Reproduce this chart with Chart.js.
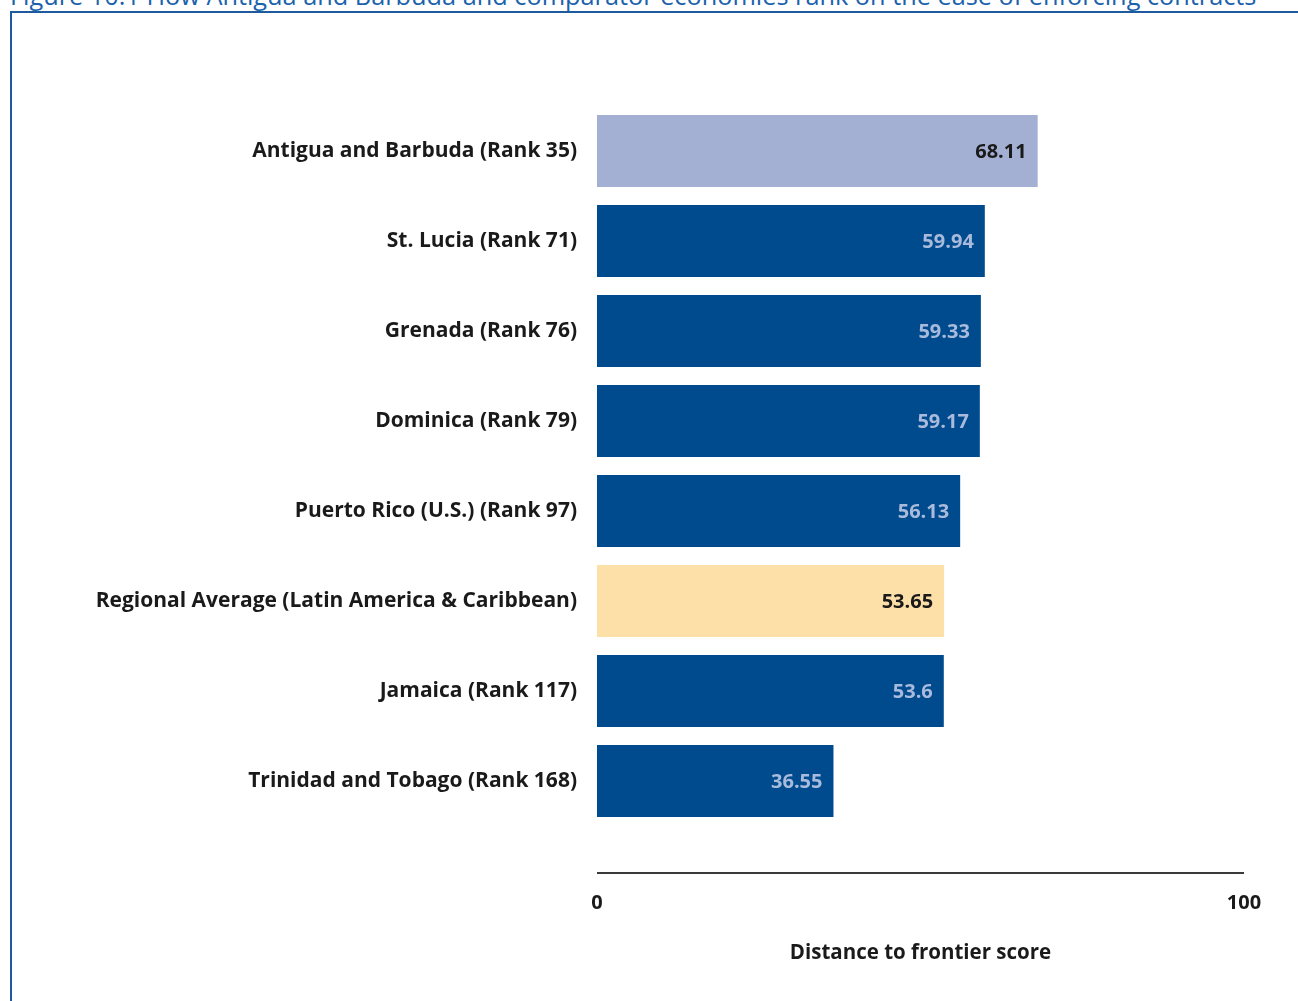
<!DOCTYPE html>
<html lang="en">
<head>
<meta charset="UTF-8">
<title>Enforcing contracts – Antigua and Barbuda</title>
<script src="https://cdn.jsdelivr.net/npm/chart.js"></script>
<style>
    html, body { margin: 0; padding: 0; background: #fff; overflow: hidden; }
    body { width: 1298px; height: 1001px; position: relative; font-family: "Open Sans", sans-serif; }
    .fig-title { position: absolute; left: 10px; top: -17px; font-size: 25.3px; line-height: 24px; color: #1b62ac; white-space: nowrap; }
    .frame { position: absolute; left: 10px; top: 11px; width: 1300px; height: 1000px; border-left: 2px solid #1d5a9e; border-top: 2px solid #1d5a9e; box-sizing: border-box; }
    canvas { position: absolute; left: 0; top: 0; }
</style>
</head>
<body>

<div class="fig-title">Figure 10.1 How Antigua and Barbuda and comparator economies rank on the ease of enforcing contracts</div>
<div class="frame"></div>
<canvas id="dtfChart" width="1298" height="1001"></canvas>

<script>
    const economies = [
        "Antigua and Barbuda (Rank 35)",
        "St. Lucia (Rank 71)",
        "Grenada (Rank 76)",
        "Dominica (Rank 79)",
        "Puerto Rico (U.S.) (Rank 97)",
        "Regional Average (Latin America & Caribbean)",
        "Jamaica (Rank 117)",
        "Trinidad and Tobago (Rank 168)"
    ];
    const scores = [68.11, 59.94, 59.33, 59.17, 56.13, 53.65, 53.6, 36.55];
    const xTicks = [0, 100];

    const barColors = ["#a4b0d3", "#004b8d", "#004b8d", "#004b8d", "#004b8d", "#fddfa8", "#004b8d", "#004b8d"];
    const labelColors = ["#1a1a1a", "#a9bbdc", "#a9bbdc", "#a9bbdc", "#a9bbdc", "#1a1a1a", "#a9bbdc", "#a9bbdc"];

    // value labels inside the bar ends + the detached axis line
    const extras = {
        id: "extras",
        afterDatasetsDraw(chart) {
            const ctx = chart.ctx;
            const meta = chart.getDatasetMeta(0);
            ctx.save();
            ctx.font = "bold 20px 'Open Sans', sans-serif";
            ctx.textAlign = "right";
            ctx.textBaseline = "middle";
            meta.data.forEach((bar, i) => {
                ctx.fillStyle = labelColors[i];
                ctx.fillText(String(scores[i]), bar.x - 11, bar.y + 1);
            });
            const x = chart.scales.x;
            ctx.strokeStyle = "#3a3a3a";
            ctx.lineWidth = 2;
            ctx.beginPath();
            ctx.moveTo(x.getPixelForValue(0), chart.chartArea.bottom + 47);
            ctx.lineTo(x.getPixelForValue(100), chart.chartArea.bottom + 47);
            ctx.stroke();
            ctx.restore();
        }
    };

    new Chart(document.getElementById("dtfChart"), {
        type: "bar",
        data: {
            labels: economies,
            datasets: [{
                data: scores,
                backgroundColor: barColors,
                borderWidth: 0,
                barPercentage: 0.8,
                categoryPercentage: 1
            }]
        },
        plugins: [extras],
        options: {
            indexAxis: "y",
            responsive: false,
            animation: false,
            layout: { padding: { top: 106, right: 54, left: 0, bottom: 0 } },
            plugins: {
                legend: { display: false },
                tooltip: { enabled: false }
            },
            scales: {
                x: {
                    min: 0,
                    max: 100,
                    afterBuildTicks: s => { s.ticks = xTicks.map(v => ({ value: v })); },
                    afterFit: s => { s.height = 175; s.paddingLeft = 0; s.paddingRight = 0; },
                    grid: { display: false, drawTicks: false },
                    border: { display: false },
                    ticks: {
                        padding: 65,
                        color: "#1a1a1a",
                        font: { family: "'Open Sans', sans-serif", size: 20, weight: "bold" }
                    },
                    title: {
                        display: true,
                        text: "Distance to frontier score",
                        color: "#1a1a1a",
                        padding: { top: 0, bottom: 36 },
                        font: { family: "'Open Sans', sans-serif", size: 20.5, weight: "bold" }
                    }
                },
                y: {
                    afterFit: s => { s.width = 597; },
                    grid: { display: false, drawTicks: false },
                    border: { display: false },
                    ticks: {
                        padding: 20,
                        color: "#1a1a1a",
                        font: { family: "'Open Sans', sans-serif", size: 21, weight: "bold" }
                    }
                }
            }
        }
    });
</script>

</body>
</html>
